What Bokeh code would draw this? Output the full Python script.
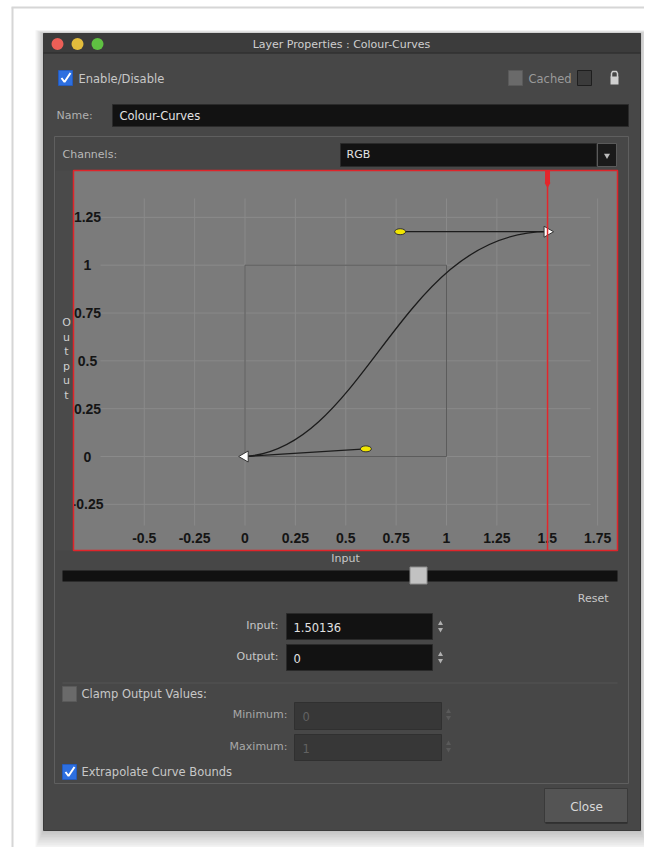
import math
from bokeh.plotting import figure
from bokeh.models import Range1d
from bokeh.core.properties import value
from bokeh.embed import file_html
from bokeh.resources import INLINE

# ---------------- chart data ----------------
x_ticks = [-0.5, -0.25, 0, 0.25, 0.5, 0.75, 1, 1.25, 1.5, 1.75]
x_tick_labels = ["-0.5", "-0.25", "0", "0.25", "0.5", "0.75", "1", "1.25", "1.5", "1.75"]
y_ticks = [1.25, 1, 0.75, 0.5, 0.25, 0, -0.25]
y_tick_labels = ["1.25", "1", "0.75", "0.5", "0.25", "0", "-0.25"]

# curve key points (input, output)
point_x = [0.0, 1.5]
point_y = [0.0, 1.175]
# bezier handles: outgoing from first point, incoming to second point
handle_out_x = [0.6]
handle_out_y = [0.04]
handle_in_x = [0.77]
handle_in_y = [1.175]

current_input = 1.50136
current_output = 0
clamp_min = 0
clamp_max = 1

# ---------------- page / figure ----------------
FONT = value("DejaVu Sans")
TICKFONT = value("Liberation Sans")
W, H = 644, 847

p = figure(width=W, height=H, x_range=Range1d(0, W), y_range=Range1d(H, 0),
           output_backend="svg", toolbar_location=None, min_border=0)
p.axis.visible = False
p.grid.visible = False
p.outline_line_color = None
p.background_fill_color = "white"
p.border_fill_color = "white"

# chart placement (pixels) -> extra ranges for the curve coordinate system
X0, SX = 244.5, 201.5
Y0, SY = 456.0, 191.3
p.extra_x_ranges = {"c": Range1d((0 - X0) / SX, (W - X0) / SX)}
p.extra_y_ranges = {"c": Range1d((Y0 - H) / SY, (Y0 - 0) / SY)}
C = dict(x_range_name="c", y_range_name="c")
cx_left, cx_right = (73 - X0) / SX, (617 - X0) / SX
cy_top, cy_bot = (Y0 - 170) / SY, (Y0 - 550) / SY


def txt(x, y, s, size="11px", color="#c8c8c8", align="left", font=FONT, style="normal"):
    p.text(x=[x], y=[y], text=[s], text_font=font, text_font_size=size, text_color=color,
           text_align=align, text_baseline="middle", text_font_style=style)


def box(l, r, t, b, fill, line=None, lw=1, alpha=1.0):
    p.quad(left=[l], right=[r], top=[t], bottom=[b], fill_color=fill, fill_alpha=alpha,
           line_color=line, line_width=lw)


# outer light frame of the page
p.line([11, 660], [7, 7], line_color="#d6d6d6", line_width=2)
p.line([12, 12], [7, 863], line_color="#d6d6d6", line_width=2)

# dialog shadow (soft)
for i in range(1, 13):
    box(43 - i * 0.7, 640 + i * 0.7, 33 - i * 0.3, 830 + i * 1.6, "black", alpha=0.018)

# dialog body
box(43, 640, 33, 830, "#474747", line="#3a3a3a")
box(43, 640, 33, 52, "#3c3c3c")
p.line([43, 640], [52.5, 52.5], line_color="#262626", line_width=1)

# traffic lights
p.scatter(x=[57, 77, 97], y=[43.5, 43.5, 43.5], size=12, marker="circle",
          fill_color=["#ec5f57", "#e3bd3c", "#5fc142"], line_color=None)
txt(341, 44, "Layer Properties : Colour-Curves", size="11px", color="#cfcfcf", align="center")

# Enable / Disable
box(58, 72, 70, 85, "#2d6fe0", line="#245bbd")
p.line([61, 64, 70], [77.5, 81.5, 72.5], line_color="white", line_width=2)
txt(78, 78, "Enable/Disable", size="11.5px")

# Cached + lock
box(508, 522, 70, 85, "#6a6a6a", line="#5a5a5a")
txt(528, 78, "Cached", size="11.5px", color="#9a9a9a")
box(577, 591, 70, 85, "#3b3b3b", line="#1e1e1e")
box(610, 618, 76, 84, "#d0d0d0")
p.line([611, 611, 612, 616, 617, 617], [77, 73, 71, 71, 73, 77], line_color="#d0d0d0", line_width=1.5)

# Name
txt(56, 115, "Name:", size="11px", color="#b0b0b0")
box(112, 628, 104, 126, "#121212", line="#2a2a2a")
txt(119, 115, "Colour-Curves", size="11.5px", color="#e2e2e2")

# group box
box(54, 628, 136, 783, None, line="#5f5f5f")

# Channels
txt(62, 154, "Channels:", size="11px", color="#b8b8b8")
box(340, 596, 143, 166, "#121212", line="#2a2a2a")
txt(346, 154, "RGB", size="11px", color="#e2e2e2")
box(597, 616, 143, 166, "#1a1a1a", line="#5a5a5a")
p.scatter(x=[606.5], y=[155], marker="inverted_triangle", size=6, fill_color="#bbbbbb", line_color=None)

# ---------------- the curve chart ----------------
p.quad(left=[cx_left], right=[cx_right], top=[cy_top], bottom=[cy_bot],
       fill_color="#7b7b7b", line_color=None, **C)

# gridlines
gx_top, gx_bot = (Y0 - 198) / SY, (Y0 - 525) / SY
gy_left, gy_right = (100 - X0) / SX, (590 - X0) / SX
p.segment(x0=x_ticks, x1=x_ticks, y0=[gx_bot] * len(x_ticks), y1=[gx_top] * len(x_ticks),
          line_color="#8a8a8a", line_width=1, **C)
p.segment(x0=[gy_left] * len(y_ticks), x1=[gy_right] * len(y_ticks), y0=y_ticks, y1=y_ticks,
          line_color="#8a8a8a", line_width=1, **C)

# unit square
p.quad(left=[0], right=[1], bottom=[0], top=[1], fill_color=None, line_color="#5c5c5c",
       line_width=1, **C)

# tick labels
ylab_x = (87 - X0) / SX
xlab_y = (Y0 - 537) / SY
p.text(x=x_ticks, y=[xlab_y] * len(x_ticks), text=x_tick_labels, text_font=TICKFONT,
       text_font_size="14px", text_font_style="bold", text_color="#151515",
       text_align="center", text_baseline="middle", **C)
p.text(x=[ylab_x] * len(y_ticks), y=y_ticks, text=y_tick_labels, text_font=TICKFONT,
       text_font_size="14px", text_font_style="bold", text_color="#151515",
       text_align="center", text_baseline="middle", **C)

# handle lines
p.segment(x0=[point_x[0]], y0=[point_y[0]], x1=handle_out_x, y1=handle_out_y,
          line_color="#1c1c1c", line_width=1.3, **C)
p.segment(x0=handle_in_x, y0=handle_in_y, x1=[point_x[1]], y1=[point_y[1]],
          line_color="#1c1c1c", line_width=1.3, **C)

# curve
p.bezier(x0=[point_x[0]], y0=[point_y[0]], x1=[point_x[1]], y1=[point_y[1]],
         cx0=handle_out_x, cy0=handle_out_y, cx1=handle_in_x, cy1=handle_in_y,
         line_color="#1c1c1c", line_width=1.3, **C)

# handle knobs
p.ellipse(x=handle_out_x + handle_in_x, y=handle_out_y + handle_in_y, width=11, height=6,
          width_units="screen", height_units="screen", fill_color="#f2e600",
          line_color="#333333", line_width=1, **C)

# key point markers
p.scatter(x=[point_x[0]], y=[point_y[0]], marker="triangle", size=11, angle=math.pi / 2,
          fill_color="white", line_color="#333333", line_width=1, **C)
p.scatter(x=[point_x[1]], y=[point_y[1]], marker="triangle", size=11, angle=-math.pi / 2,
          fill_color="white", line_color="#333333", line_width=1, **C)

# current input marker
p.segment(x0=[current_input], x1=[current_input], y0=[cy_bot], y1=[cy_top],
          line_color="#e3262b", line_width=1.5, **C)
p.segment(x0=[current_input], x1=[current_input], y0=[(Y0 - 183) / SY], y1=[cy_top],
          line_color="#e3262b", line_width=5, **C)
p.scatter(x=[current_input], y=[(Y0 - 184) / SY], marker="inverted_triangle", size=6,
          fill_color="#e3262b", line_color=None, **C)

# left strip with vertical "Output" title
box(55, 73, 170, 550, "#4a4a4a")
letters = list("Output")
p.text(x=[66] * len(letters), y=[322 + 14.6 * i for i in range(len(letters))], text=letters,
       text_font=FONT, text_font_size="11px", text_color="#d0d0d0",
       text_align="center", text_baseline="middle")

# red chart frame
p.quad(left=[cx_left], right=[cx_right], top=[cy_top], bottom=[cy_bot],
       fill_color=None, line_color="#e0242a", line_width=1.5, **C)

# ---------------- below the chart ----------------
txt(345, 558, "Input", size="11px", color="#c8c8c8", align="center")
box(62, 617, 570, 581, "#111111")
box(409.5, 426.5, 566.5, 583.5, "#c2c2c2", line="#8c8c8c")
txt(608, 598, "Reset", size="11px", color="#c8c8c8", align="right")

txt(278, 625, "Input:", size="11px", color="#c8c8c8", align="right")
box(286, 432, 613, 639, "#121212", line="#2a2a2a")
txt(293, 627, f"{current_input:.5f}", size="11.5px", color="#e2e2e2")
txt(278, 656, "Output:", size="11px", color="#c8c8c8", align="right")
box(286, 432, 644, 670, "#121212", line="#2a2a2a")
txt(293, 658, f"{current_output}", size="11.5px", color="#e2e2e2")
p.scatter(x=[440, 440, 440, 440], y=[623, 629, 654, 660],
          marker=["triangle", "inverted_triangle", "triangle", "inverted_triangle"],
          size=5, fill_color="#b0b0b0", line_color=None)

p.line([62, 617], [682.5, 682.5], line_color="#555555", line_width=1)

box(62, 76, 686, 701, "#6a6a6a", line="#5a5a5a")
txt(81, 693, "Clamp Output Values:", size="11.5px", color="#c8c8c8")

txt(287, 714, "Minimum:", size="11px", color="#a8a8a8", align="right")
box(294, 441, 702, 729, "#373737", line="#303030")
txt(302, 716, f"{clamp_min}", size="11.5px", color="#626262")
txt(287, 746, "Maximum:", size="11px", color="#a8a8a8", align="right")
box(294, 441, 734, 760, "#373737", line="#303030")
txt(302, 748, f"{clamp_max}", size="11.5px", color="#626262")
p.scatter(x=[448, 448, 448, 448], y=[711, 717, 743, 749],
          marker=["triangle", "inverted_triangle", "triangle", "inverted_triangle"],
          size=5, fill_color="#5a5a5a", line_color=None)

box(62, 76, 764, 779, "#2d6fe0", line="#245bbd")
p.line([65, 68, 74], [771.5, 775.5, 766.5], line_color="white", line_width=2)
txt(81, 771, "Extrapolate Curve Bounds", size="11.5px", color="#c8c8c8")

# Close button
box(544, 627, 788, 822, "#545454", line="#3a3a3a")
p.line([545, 627], [822.5, 822.5], line_color="#2e2e2e", line_width=1.5)
txt(586, 806, "Close", size="12px", color="#d8d8d8", align="center")

open("out.html", "w").write(file_html(p, INLINE))
